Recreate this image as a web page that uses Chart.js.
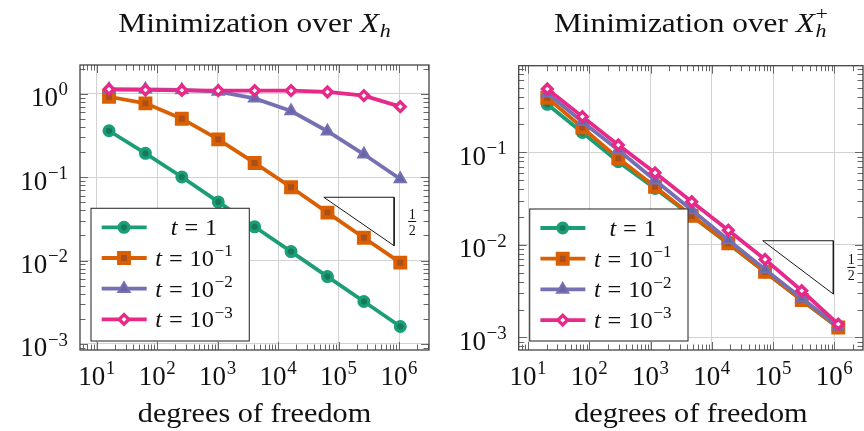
<!DOCTYPE html>
<html>
<head>
<meta charset="utf-8">
<script src="https://cdn.jsdelivr.net/npm/chart.js@4/dist/chart.umd.min.js"></script>
<style>
  html, body { margin: 0; padding: 0; background: #fff; }
  #wrap { position: relative; width: 864px; height: 431px; }
  .box { position: absolute; top: 0; width: 432px; height: 431px; }
</style>
</head>
<body>
<div id="wrap">
  <div class="box" style="left:0"><canvas id="left" width="432" height="431"></canvas></div>
  <div class="box" style="left:432px"><canvas id="right" width="432" height="431"></canvas></div>
</div>
<script>
// degrees of freedom
const dofsLeft = [16, 64, 256, 1024, 4096, 16384, 65536, 262144, 1048576];
const dofsRight = [20.6, 77, 297, 1183, 4700, 18600, 74000, 294000, 1160000];

// Minimization over X_h
const leftT1 = [0.36, 0.193, 0.1005, 0.0505, 0.0254, 0.0128, 0.00643, 0.00323, 0.00162];
const leftT1e1 = [0.92, 0.767, 0.502, 0.284, 0.148, 0.0757, 0.0376, 0.0188, 0.00946];
const leftT1e2 = [1.13, 1.13, 1.11, 1.06, 0.88, 0.62, 0.355, 0.188, 0.095];
const leftT1e3 = [1.13, 1.11, 1.10, 1.09, 1.09, 1.09, 1.05, 0.95, 0.70];

// Minimization over X_h^+
const rightT1 = [0.330, 0.164, 0.079, 0.0407, 0.0205, 0.0103, 0.0051, 0.00252, 0.00127];
const rightT1e1 = [0.389, 0.185, 0.086, 0.0425, 0.0206, 0.0104, 0.0051, 0.00253, 0.00128];
const rightT1e2 = [0.435, 0.214, 0.106, 0.050, 0.0238, 0.0113, 0.00543, 0.00264, 0.00132];
const rightT1e3 = [0.483, 0.243, 0.120, 0.060, 0.0292, 0.0144, 0.00696, 0.00319, 0.00139];

// t = 10^k, legend exponents (null -> "t = 1")
const tExps = [null, -1, -2, -3];

// tick labels (powers of ten)
const xTickExps = [1, 2, 3, 4, 5, 6];
const leftYTickExps = [0, -1, -2, -3];
const rightYTickExps = [-1, -2, -3];

// slope triangles: [x start, x end], y at top edge, slope
const slopeLeftX = [57000, 830000];
const slopeLeftY = 0.0574;
const slopeRightX = [67800, 964000];
const slopeRightY = 0.01107;
const slopeRate = 0.5;

const seriesStyle = [
  { color: '#1b9e77', fill: '#157a5c', marker: 'circle', r: 4.8, bw: 3.4 },
  { color: '#d95f02', fill: '#a94f1c', marker: 'rect', r: 7, bw: 4 },
  { color: '#7570b3', fill: '#6a65a6', marker: 'triangle', r: 6.5, bw: 2 },
  { color: '#e7298a', fill: '#ffffff', marker: 'rectRot', r: 4.8, bw: 3.4 }
];

const FONT = '"Liberation Serif", "DejaVu Serif", serif';
const GRID = '#d2d2d2';
const LINE_W = 3.8;

function isDecade(v) {
  const l = Math.log10(v);
  return Math.abs(l - Math.round(l)) < 1e-6;
}

function fontOf(r, size) {
  return (r.it ? 'italic ' : '') + (size * (r.k || 1)).toFixed(1) + 'px ' + FONT;
}

// draw a sequence of text runs (italic / sub / superscripts)
function drawRuns(ctx, runs, x, y, align, size, sx) {
  const items = [];
  let pen = 0, prevStart = 0;
  for (const r of runs) {
    ctx.font = fontOf(r, size);
    const w = ctx.measureText(r.t).width * sx;
    let start;
    if (r.stack) { start = prevStart; pen = Math.max(pen, start + w); }
    else { start = pen + (r.gap || 0) * size; pen = start + w; }
    items.push({ r, start });
    prevStart = start;
  }
  const x0 = align === 'right' ? x - pen : align === 'center' ? x - pen / 2 : x;
  ctx.fillStyle = '#111';
  ctx.textAlign = 'left';
  ctx.textBaseline = 'alphabetic';
  for (const it of items) {
    ctx.font = fontOf(it.r, size);
    ctx.save();
    ctx.translate(x0 + it.start, y + (it.r.dy || 0) * size);
    ctx.scale(sx, 1);
    ctx.fillText(it.r.t, 0, 0);
    ctx.restore();
  }
  return pen;
}

function powRuns(e) {
  const s = e < 0 ? '\u2212' + (-e) : String(e);
  return [{ t: '10' }, { t: s, k: 0.7, dy: -0.4, gap: 0.02 }];
}

function drawMarker(ctx, st, x, y) {
  const r = st.r;
  ctx.save();
  ctx.beginPath();
  if (st.marker === 'circle') ctx.arc(x, y, r, 0, Math.PI * 2);
  else if (st.marker === 'rect') { const h = r * Math.SQRT1_2; ctx.rect(x - h, y - h, 2 * h, 2 * h); }
  else if (st.marker === 'rectRot') { ctx.moveTo(x - r, y); ctx.lineTo(x, y - r); ctx.lineTo(x + r, y); ctx.lineTo(x, y + r); ctx.closePath(); }
  else {
    for (let k = 0; k < 3; k++) {
      const a = -Math.PI / 2 + k * 2 * Math.PI / 3;
      const px = x + r * Math.cos(a), py = y + r * Math.sin(a);
      if (k) ctx.lineTo(px, py); else ctx.moveTo(px, py);
    }
    ctx.closePath();
  }
  ctx.fillStyle = st.fill;
  ctx.fill();
  ctx.lineWidth = st.bw;
  ctx.strokeStyle = st.color;
  ctx.stroke();
  ctx.restore();
}

function logAxis(min, max, pos) {
  return {
    type: 'logarithmic', position: pos, min, max,
    ticks: { display: false },
    grid: {
      drawTicks: false,
      lineWidth: 1,
      color: c => (c.tick && isDecade(c.tick.value)) ? GRID : 'rgba(0,0,0,0)'
    },
    border: { display: false },
    afterFit: s => { if (s.isHorizontal()) s.height = 0; else s.width = 0; }
  };
}

function decorPlugin(p) {
  return {
    id: 'decor',
    afterDraw(chart) {
      const ctx = chart.ctx, a = chart.chartArea;
      const xs = chart.scales.x, ys = chart.scales.y;
      ctx.save();

      // minor / major tick marks inside the frame
      ctx.strokeStyle = '#666';
      ctx.lineWidth = 1;
      ctx.beginPath();
      const marks = (sc, horiz) => {
        const lo = Math.floor(Math.log10(sc.min)), hi = Math.ceil(Math.log10(sc.max));
        for (let e = lo; e <= hi; e++) {
          for (let m = 1; m <= 9; m++) {
            const v = m * Math.pow(10, e);
            if (v < sc.min || v > sc.max) continue;
            const len = m === 1 ? 8 : 5.5;
            const q = Math.round(sc.getPixelForValue(v)) + 0.5;
            if (horiz) {
              ctx.moveTo(q, a.bottom); ctx.lineTo(q, a.bottom - len);
              ctx.moveTo(q, a.top); ctx.lineTo(q, a.top + len);
            } else {
              ctx.moveTo(a.left, q); ctx.lineTo(a.left + len, q);
              ctx.moveTo(a.right, q); ctx.lineTo(a.right - len, q);
            }
          }
        }
      };
      marks(xs, true);
      marks(ys, false);
      ctx.stroke();

      // frame
      ctx.strokeStyle = '#444';
      ctx.lineWidth = 1.3;
      ctx.strokeRect(a.left, a.top, a.right - a.left, a.bottom - a.top);

      // slope label 1/2
      const sxp = xs.getPixelForValue(p.slopeX[1]) + 18;
      const yTop = ys.getPixelForValue(p.slopeY);
      const yBot = ys.getPixelForValue(p.slopeY * Math.pow(p.slopeX[1] / p.slopeX[0], -slopeRate));
      const my = (yTop + yBot) / 2;
      drawRuns(ctx, [{ t: '1' }], sxp, my - 3, 'center', 14, 1);
      drawRuns(ctx, [{ t: '2' }], sxp, my + 13, 'center', 14, 1);
      ctx.fillStyle = '#111';
      ctx.fillRect(sxp - 4, my - 0.5, 8, 1);

      // tick labels
      const cx = (a.left + a.right) / 2;
      xTickExps.forEach(e => {
        drawRuns(ctx, powRuns(e), xs.getPixelForValue(Math.pow(10, e)), a.bottom + 35, 'center', 27, 1);
      });
      p.yTicks.forEach(e => {
        drawRuns(ctx, powRuns(e), a.left - 12, ys.getPixelForValue(Math.pow(10, e)) + 12.5, 'right', 27, 1);
      });

      // axis title and chart title
      drawRuns(ctx, [{ t: 'degrees of freedom' }], cx, 422, 'center', 27, 1.12);
      drawRuns(ctx, p.title, cx, 31.7, 'center', 27, 1.16);

      // legend box
      const lx = a.left + 11, ly = a.top + 143.3, lw = 158.3, lh = a.bottom - 9 - ly;
      ctx.fillStyle = '#fff';
      ctx.fillRect(lx, ly, lw, lh);
      ctx.strokeStyle = '#333';
      ctx.lineWidth = 1.1;
      ctx.strokeRect(lx, ly, lw, lh);
      seriesStyle.forEach((st, i) => {
        const ry = ly + 19 + i * 30.7;
        ctx.strokeStyle = st.color;
        ctx.lineWidth = LINE_W;
        ctx.beginPath();
        ctx.moveTo(lx + 10.7, ry);
        ctx.lineTo(lx + 55.7, ry);
        ctx.stroke();
        drawMarker(ctx, st, lx + 33, ry);
        const e = tExps[i];
        const runs = e === null
          ? [{ t: 't', it: true }, { t: '=', gap: 0.3 }, { t: '1', gap: 0.3 }]
          : [{ t: 't', it: true }, { t: '=', gap: 0.3 }, { t: '10', gap: 0.3 },
             { t: '\u2212' + (-e), k: 0.7, dy: -0.42, gap: 0.03 }];
        drawRuns(ctx, runs, lx + 103, ry + 8, 'center', 23, 1.06);
      });
      ctx.restore();
    }
  };
}

function makePanel(id, p) {
  const datasets = p.series.map((vals, i) => {
    const st = seriesStyle[i];
    return {
      label: 't' + i,
      data: p.dofs.map((x, j) => ({ x, y: vals[j] })),
      showLine: true,
      borderColor: st.color,
      backgroundColor: st.fill,
      borderWidth: LINE_W,
      pointStyle: st.marker,
      pointRadius: st.r,
      pointHoverRadius: st.r,
      pointBorderWidth: st.bw,
      pointBorderColor: st.color,
      pointBackgroundColor: st.fill,
      order: 4 - i
    };
  });
  const y1 = p.slopeY * Math.pow(p.slopeX[1] / p.slopeX[0], -slopeRate);
  datasets.push({
    label: 'slope',
    data: [
      { x: p.slopeX[0], y: p.slopeY },
      { x: p.slopeX[1], y: p.slopeY },
      { x: p.slopeX[1], y: y1 },
      { x: p.slopeX[0], y: p.slopeY }
    ],
    showLine: true,
    borderColor: '#1a1a1a',
    borderWidth: 1,
    pointRadius: 0,
    fill: false,
    order: 10
  });

  new Chart(id, {
    type: 'scatter',
    data: { datasets },
    options: {
      responsive: false,
      animation: false,
      events: [],
      layout: { padding: p.pad, autoPadding: false },
      plugins: { legend: { display: false }, tooltip: { enabled: false }, title: { display: false } },
      scales: {
        x: logAxis(p.xMin, p.xMax, 'bottom'),
        y: logAxis(p.yMin, p.yMax, 'left')
      }
    },
    plugins: [decorPlugin(p)]
  });
}

makePanel('left', {
  dofs: dofsLeft,
  series: [leftT1, leftT1e1, leftT1e2, leftT1e3],
  xMin: 5.3, xMax: 3.13e6, yMin: 8.47e-4, yMax: 2.21,
  pad: { left: 80, top: 65, right: 3, bottom: 81 },
  yTicks: leftYTickExps,
  slopeX: slopeLeftX, slopeY: slopeLeftY,
  title: [{ t: 'Minimization over ' }, { t: 'X', it: true }, { t: 'h', it: true, k: 0.7, dy: 0.2, gap: 0.02 }]
});

makePanel('right', {
  dofs: dofsRight,
  series: [rightT1, rightT1e1, rightT1e2, rightT1e3],
  xMin: 7.03, xMax: 2.94e6, yMin: 7.3e-4, yMax: 0.863,
  pad: { left: 86.7, top: 65.7, right: 1, bottom: 81 },
  yTicks: rightYTickExps,
  slopeX: slopeRightX, slopeY: slopeRightY,
  title: [{ t: 'Minimization over ' }, { t: 'X', it: true }, { t: 'h', it: true, k: 0.7, dy: 0.2, gap: 0.02 },
          { t: '+', k: 0.7, dy: -0.45, stack: true }]
});
</script>
</body>
</html>
